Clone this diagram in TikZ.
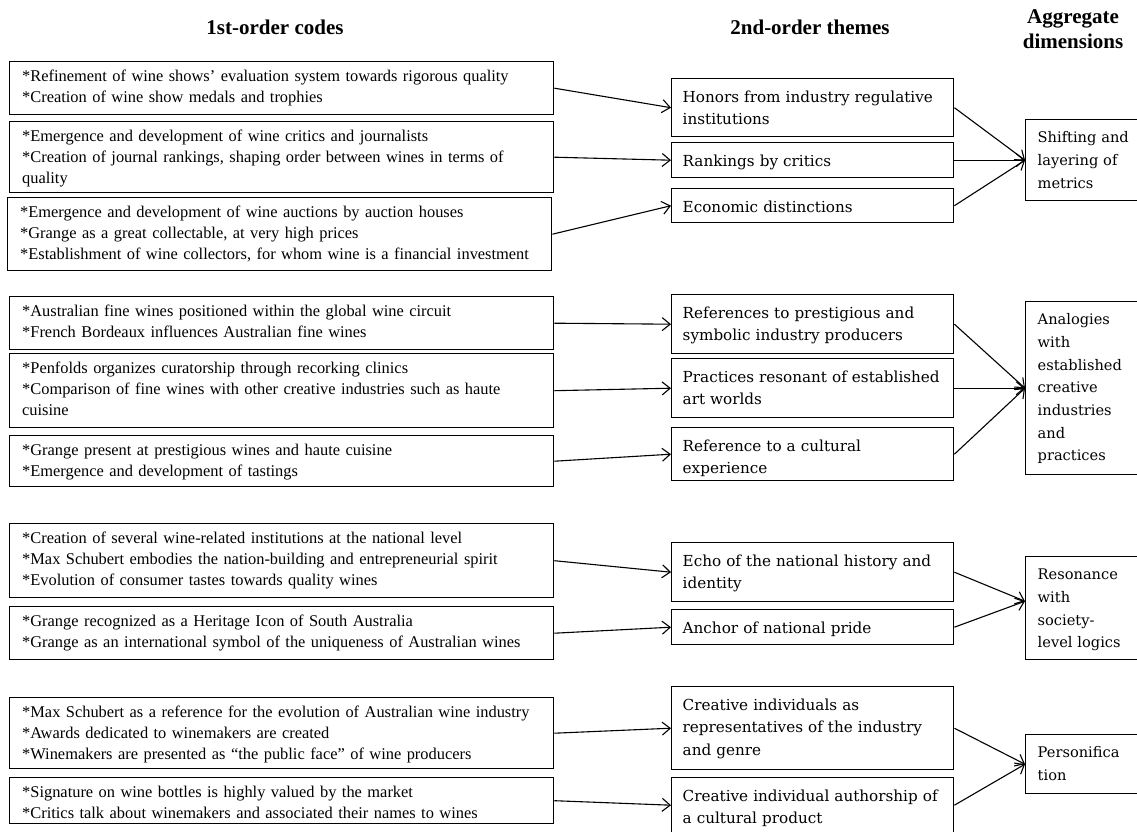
\documentclass[tikz,border=0pt]{standalone}
\usepackage{fontspec}
\setmainfont{Liberation Serif}
\newfontfamily\themefont{DejaVu Serif}
\usetikzlibrary{arrows.meta}

\newcommand{\codefont}{\fontsize{16.4pt}{21pt}\selectfont}
\newcommand{\thmfont}{\themefont\fontsize{15.2pt}{22.5pt}\selectfont}
\newcommand{\dimfont}{\themefont\fontsize{14.6pt}{22.7pt}\selectfont}

\begin{document}
\begin{tikzpicture}[x=1pt,y=-1pt,
codebox/.style={draw,line width=1.4pt,anchor=north west,align=left,
  text width=519pt,inner xsep=12.5pt,inner ysep=0pt,
  text height=19.5pt,text depth=#1,font=\codefont},
themebox/.style={draw,line width=1.4pt,anchor=north west,align=left,
  text width=260pt,inner xsep=11pt,inner ysep=0pt,
  text height=23.5pt,text depth=#1,font=\thmfont},
dimbox/.style={draw,line width=1.4pt,anchor=north west,align=left,
  text width=104pt,inner xsep=12pt,inner ysep=0pt,
  text height=23pt,text depth=#1,font=\dimfont},
head/.style={font=\fontsize{21pt}{25pt}\selectfont\bfseries,align=center},
flow/.style={-{Straight Barb[length=8pt,width=13pt]},line width=1.1pt}]
\useasboundingbox (0,0) rectangle (1137,832);

% column heads
\node[head] (hcodes) at (275,27) {1st-order codes};
\node[head] (hthemes) at (810,27) {2nd-order themes};
\node[head] (hdims) at (1073,29) {Aggregate\\dimensions};

% 1st-order codes
\node[codebox=33.5pt] (c1) at (9,61) {*Refinement of wine shows’ evaluation system towards rigorous quality\\{}*Creation of wine show medals and trophies};
\node[codebox=51.5pt] (c2) at (9,121) {*Emergence and development of wine critics and journalists\\{}*Creation of journal rankings, shaping order between wines in terms of\\quality};
\node[codebox=53.5pt] (c3) at (7,197) {*Emergence and development of wine auctions by auction houses\\{}*Grange as a great collectable, at very high prices\\{}*Establishment of wine collectors, for whom wine is a financial investment};
\node[codebox=33.5pt] (c4) at (9,296) {*Australian fine wines positioned within the global wine circuit\\{}*French Bordeaux influences Australian fine wines};
\node[codebox=54.5pt] (c5) at (9,353) {*Penfolds organizes curatorship through recorking clinics\\{}*Comparison of fine wines with other creative industries such as haute\\cuisine};
\node[codebox=31.5pt] (c6) at (9,435) {*Grange present at prestigious wines and haute cuisine\\{}*Emergence and development of tastings};
\node[codebox=54.5pt] (c7) at (9,523) {*Creation of several wine-related institutions at the national level\\{}*Max Schubert embodies the nation-building and entrepreneurial spirit\\{}*Evolution of consumer tastes towards quality wines};
\node[codebox=33.5pt] (c8) at (9,606) {*Grange recognized as a Heritage Icon of South Australia\\{}*Grange as an international symbol of the uniqueness of Australian wines};
\node[codebox=51.5pt] (c9) at (9,697) {*Max Schubert as a reference for the evolution of Australian wine industry\\{}*Awards dedicated to winemakers are created\\{}*Winemakers are presented as “the public face” of wine producers};
\node[codebox=26.5pt] (c10) at (9,777) {*Signature on wine bottles is highly valued by the market\\{}*Critics talk about winemakers and associated their names to wines};

% 2nd-order themes
\node[themebox=34.5pt] (t1) at (671,78) {Honors from industry regulative\\institutions};
\node[themebox=11.5pt] (t2) at (671,142) {Rankings by critics};
\node[themebox=10.5pt] (t3) at (671,188) {Economic distinctions};
\node[themebox=35.5pt] (t4) at (671,294) {References to prestigious and\\symbolic industry producers};
\node[themebox=35.5pt] (t5) at (671,358) {Practices resonant of established\\art worlds};
\node[themebox=29.5pt] (t6) at (671,427) {Reference to a cultural\\experience};
\node[themebox=35.5pt] (t7) at (671,542) {Echo of the national history and\\identity};
\node[themebox=11.5pt] (t8) at (671,609) {Anchor of national pride};
\node[themebox=59.5pt] (t9) at (671,686) {Creative individuals as\\representatives of the industry\\and genre};
\node[themebox=31.5pt] (t10) at (671,777) {Creative individual authorship of\\a cultural product};

% aggregate dimensions
\node[dimbox=58pt] (d1) at (1025,119) {Shifting and\\layering of\\metrics};
\node[dimbox=150pt] (d2) at (1025,301) {Analogies\\with\\established\\creative\\industries\\and\\practices};
\node[dimbox=80pt] (d3) at (1025,556) {Resonance\\with\\society-\\level logics};
\node[dimbox=36pt] (d4) at (1025,734) {Personifica\\tion};

% codes to themes
\foreach \i in {1,...,10}
  \draw[flow] (c\i.east) -- (t\i.west);

% themes to dimensions
\foreach \i in {1,2,3}
  \draw[flow] (t\i.east) -- (d1.west);
\foreach \i in {4,5,6}
  \draw[flow] (t\i.east) -- (d2.west);
\foreach \i in {7,8}
  \draw[flow] (t\i.east) -- ([yshift=7pt]d3.west);
\foreach \i in {9,10}
  \draw[flow] (t\i.east) -- (d4.west);
\end{tikzpicture}
\end{document}
